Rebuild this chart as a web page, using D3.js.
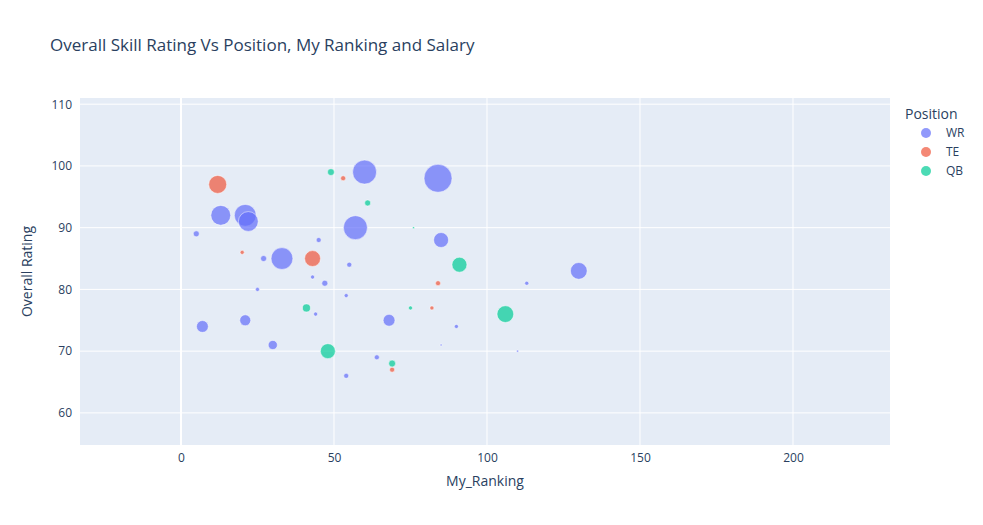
<!DOCTYPE html>
<html><head><meta charset="utf-8">
<script src="https://cdn.jsdelivr.net/npm/d3@7"></script>
<style>body{margin:0;background:#fff}text{font-family:"Open Sans",Arial,sans-serif;fill:#2a3f5f}</style>
</head><body>
<script>
var positions = ["WR","TE","QB"]
var colors = ["#636efa","#EF553B","#00cc96"]

var wrRank   = [5,7,13,21,22,21,25,27,30,33,43,44,45,47,54,55,57,60,64,54,68,84,85,85,90,110,113,130]
var wrRating = [89,74,92,92,91,75,80,85,71,85,82,76,88,81,79,84,90,99,69,66,75,98,88,71,74,70,81,83]
var wrSalary = [1.3,5,14,17,14,4.3,0.6,1.3,3,17,0.6,0.6,0.9,1.3,0.6,0.9,20.5,20.5,0.9,0.9,5,28,8,0.15,0.6,0.15,0.6,10]

var teRank   = [12,20,43,53,69,82,84]
var teRating = [97,86,85,98,67,77,81]
var teSalary = [11.5,0.6,9,0.9,0.9,0.6,0.9]

var qbRank   = [41,48,49,61,69,75,76,91,106]
var qbRating = [77,70,99,94,68,77,90,84,76]
var qbSalary = [2.3,8,1.7,1.3,1.7,0.6,0.15,8,10]

var xTicks = [0,50,100,150,200]
var yTicks = [60,70,80,90,100,110]

var width = 983, height = 525
var pLeft = 80, pRight = 890, pTop = 98, pBottom = 445

var svg = d3.select("body").append("svg").attr("width",width).attr("height",height)

var xScale = d3.scaleLinear().domain([-33,231.7]).range([pLeft,pRight])
var yScale = d3.scaleLinear().domain([54.8,111]).range([pBottom,pTop])
var rScale = d3.scaleSqrt().domain([0,30]).range([0,14.5])

svg.append("rect").attr("x",pLeft).attr("y",pTop).attr("width",pRight-pLeft).attr("height",pBottom-pTop).attr("fill","#E5ECF6")

svg.selectAll(".gx").data(xTicks).enter().append("line")
  .attr("x1",d=>xScale(d)).attr("x2",d=>xScale(d)).attr("y1",pTop).attr("y2",pBottom)
  .attr("stroke","#fff").attr("stroke-width",d=>d==0?2:1)
svg.selectAll(".gy").data(yTicks).enter().append("line")
  .attr("y1",d=>yScale(d)).attr("y2",d=>yScale(d)).attr("x1",pLeft).attr("x2",pRight)
  .attr("stroke","#fff").attr("stroke-width",1)

var xAxis = d3.axisBottom(xScale).tickValues(xTicks).tickSize(0).tickPadding(8)
var yAxis = d3.axisLeft(yScale).tickValues(yTicks).tickSize(0).tickPadding(8)
var gx = svg.append("g").attr("transform","translate(0,"+pBottom+")").call(xAxis)
var gy = svg.append("g").attr("transform","translate("+pLeft+",0)").call(yAxis)
;[gx,gy].forEach(function(g){
  g.select(".domain").remove()
  g.selectAll("text").attr("font-size",12).style("fill","#2a3f5f")
})

var series = [
  {rank:wrRank,rating:wrRating,salary:wrSalary},
  {rank:teRank,rating:teRating,salary:teSalary},
  {rank:qbRank,rating:qbRating,salary:qbSalary}
]
series.forEach(function(s,k){
  var pts = s.rank.map((r,i)=>({x:r,y:s.rating[i],s:s.salary[i]}))
  svg.append("g").selectAll("circle").data(pts).enter().append("circle")
    .attr("cx",d=>xScale(d.x)).attr("cy",d=>yScale(d.y)).attr("r",d=>Math.max(1,rScale(d.s)))
    .attr("fill",colors[k]).attr("fill-opacity",0.7)
    .attr("stroke","#fff").attr("stroke-width",0.5)
})

svg.append("text").attr("x",50).attr("y",51).attr("font-size",17).text("Overall Skill Rating Vs Position, My Ranking and Salary")
svg.append("text").attr("x",(pLeft+pRight)/2).attr("y",486).attr("text-anchor","middle").attr("font-size",14).text("My_Ranking")
svg.append("text").attr("transform","translate(32,"+(pTop+pBottom)/2+") rotate(-90)").attr("text-anchor","middle").attr("font-size",14).text("Overall Rating")

svg.append("text").attr("x",905).attr("y",119).attr("font-size",14).text("Position")
positions.forEach(function(p,i){
  var y = 133 + i*19
  svg.append("circle").attr("cx",926).attr("cy",y).attr("r",5).attr("fill",colors[i]).attr("fill-opacity",0.7)
  svg.append("text").attr("x",946).attr("y",y+4).attr("font-size",12).text(p)
})
</script>
</body></html>
